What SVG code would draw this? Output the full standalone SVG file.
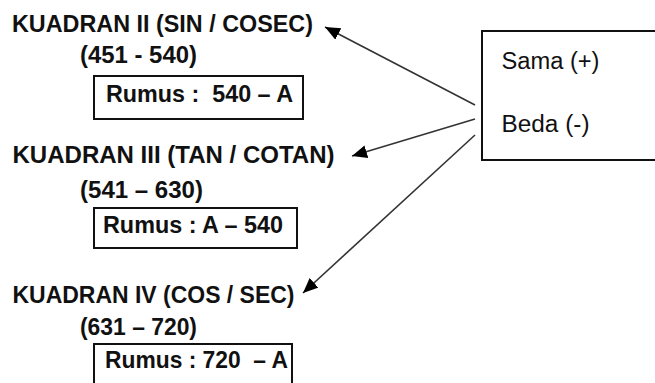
<svg xmlns="http://www.w3.org/2000/svg" width="655" height="383" viewBox="0 0 655 383">
<defs>
<style>
.b{font-family:"Liberation Sans",Arial,sans-serif;font-weight:bold;font-size:24px;fill:#111;white-space:pre}
.r{font-family:"Liberation Sans",Arial,sans-serif;font-size:23px;fill:#111;white-space:pre}
.box{fill:#fff;stroke:#111;stroke-width:2}
.con{stroke:#333;stroke-width:1.6;fill:none;marker-end:url(#ah)}
</style>
<marker id="ah" markerUnits="userSpaceOnUse" markerWidth="17" markerHeight="14" refX="15" refY="6.5" orient="auto">
<path d="M0,0 L15,6.5 L0,13 Z" fill="#000"/>
</marker>
</defs>
<rect width="655" height="383" fill="#fff"/>
<g id="q2">
<text class="b" x="12" y="32" textLength="301" lengthAdjust="spacingAndGlyphs">KUADRAN II (SIN / COSEC)</text>
<text class="b" x="80" y="62.5" textLength="117" lengthAdjust="spacingAndGlyphs">(451 - 540)</text>
<rect class="box" x="94" y="76" width="209" height="43"/>
<text class="b" x="106" y="102" textLength="187" lengthAdjust="spacingAndGlyphs" xml:space="preserve">Rumus :  540 – A</text>
</g>
<g id="q3">
<text class="b" x="12.5" y="163" textLength="322" lengthAdjust="spacingAndGlyphs">KUADRAN III (TAN / COTAN)</text>
<text class="b" x="80" y="198" textLength="123" lengthAdjust="spacingAndGlyphs">(541 – 630)</text>
<rect class="box" x="94" y="208" width="203" height="40"/>
<text class="b" x="103" y="233" textLength="180" lengthAdjust="spacingAndGlyphs">Rumus : A – 540</text>
</g>
<g id="q4">
<text class="b" x="12.5" y="303" textLength="282" lengthAdjust="spacingAndGlyphs">KUADRAN IV (COS / SEC)</text>
<text class="b" x="80" y="335" textLength="117" lengthAdjust="spacingAndGlyphs">(631 – 720)</text>
<rect class="box" x="94" y="344" width="198" height="50"/>
<text class="b" x="105" y="368" textLength="183" lengthAdjust="spacingAndGlyphs" xml:space="preserve">Rumus : 720  – A</text>
</g>
<g id="legend">
<rect class="box" x="482" y="31" width="190" height="129"/>
<text class="r" x="501.5" y="68.5" textLength="98" lengthAdjust="spacingAndGlyphs">Sama (+)</text>
<text class="r" x="501.5" y="131.5" textLength="88" lengthAdjust="spacingAndGlyphs">Beda (-)</text>
</g>
<g id="connectors">
<line class="con" x1="475" y1="105" x2="325" y2="27"/>
<line class="con" x1="475" y1="119" x2="352" y2="156"/>
<line class="con" x1="475" y1="135" x2="303" y2="293"/>
</g>
</svg>
